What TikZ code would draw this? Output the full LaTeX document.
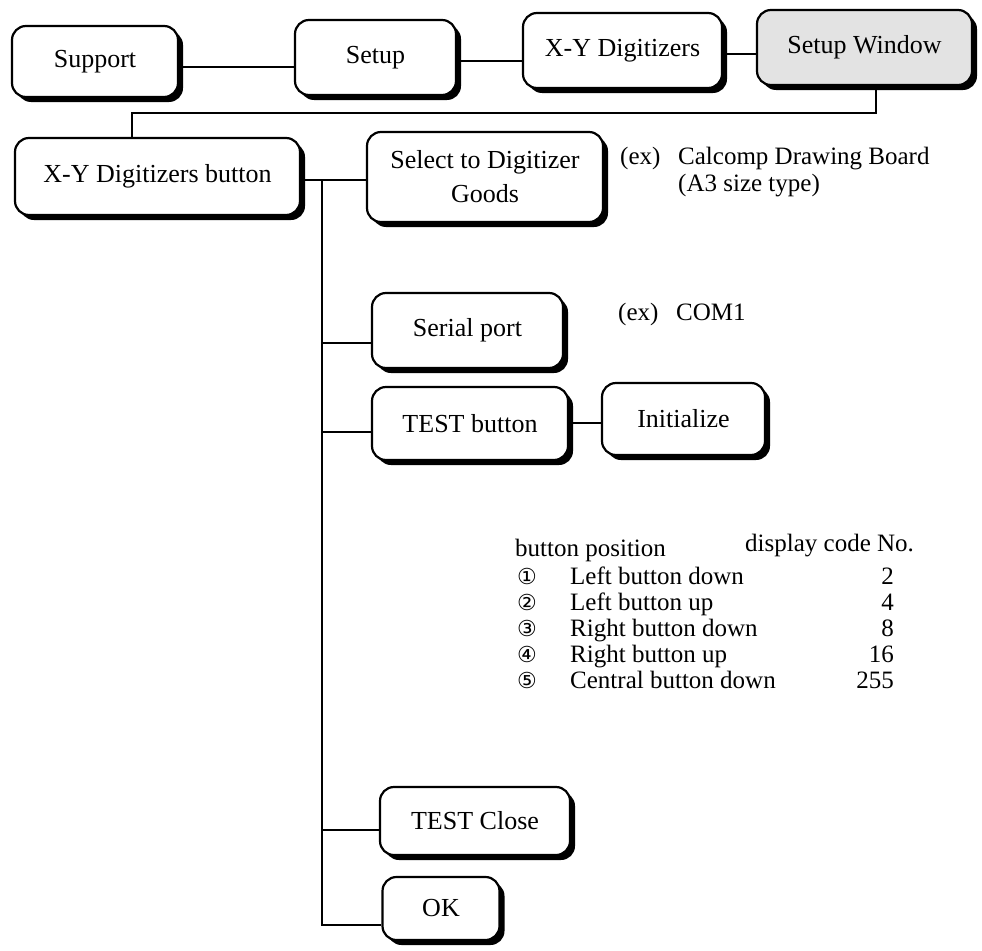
\documentclass[tikz,border=0pt]{standalone}
\usepackage{fontspec}
\setmainfont{Liberation Serif}
\newfontfamily\circfont{DejaVu Sans}
\usetikzlibrary{shadows}

\begin{document}
\begin{tikzpicture}[x=1pt,y=-1pt,
  menubox/.style={draw, line width=2.2pt, rounded corners=14pt, fill=white,
    inner sep=0pt, align=center, font=\fontsize{26}{34}\selectfont,
    drop shadow={shadow xshift=5pt, shadow yshift=-5pt, fill=black, opacity=1}},
  link/.style={line width=2pt},
  note/.style={anchor=base west, inner sep=0pt, font=\fontsize{25}{30}\selectfont},
  num/.style={anchor=base east, inner sep=0pt, font=\fontsize{25}{30}\selectfont},
  circ/.style={inner sep=0pt, font=\circfont\fontsize{22}{24}\selectfont}]

\useasboundingbox (0,0) rectangle (982,950);
\fill[white] (0,0) rectangle (982,950);

% menu path along the top
\node[menubox, minimum width=166pt, minimum height=71pt] (sup) at (95,61.5) {Support};
\node[menubox, minimum width=161pt, minimum height=75pt] (set) at (375.5,57.5) {Setup};
\node[menubox, minimum width=199pt, minimum height=75pt] (xyd) at (622.5,50.5) {X-Y Digitizers};
\node[menubox, fill=gray!22, minimum width=215pt, minimum height=75pt] (sw) at (864.5,47.5) {Setup Window};

% dialog items
\node[menubox, minimum width=285pt, minimum height=77pt] (xyb) at (157.5,176.5) {X-Y Digitizers button};
\node[menubox, minimum width=236pt, minimum height=90pt] (sel) at (485,177) {Select to Digitizer\\Goods};
\node[menubox, minimum width=191pt, minimum height=75pt] (ser) at (467.5,330.5) {Serial port};
\node[menubox, minimum width=196pt, minimum height=73pt] (tst) at (470,423.5) {TEST button};
\node[menubox, minimum width=163pt, minimum height=72pt] (ini) at (683.5,419) {Initialize};
\node[menubox, minimum width=190pt, minimum height=68pt] (tcl) at (475,821) {TEST Close};
\node[menubox, minimum width=117pt, minimum height=63pt] (ok) at (441,908.5) {OK};

% connectors along the top
\draw[link] ([yshift=-6pt]sup.east) -- ([yshift=-6pt]sup.east -| set.west);
\draw[link] ([yshift=-4pt]set.east) -- ([yshift=-4pt]set.east -| xyd.west);
\draw[link] ([yshift=-4pt]xyd.east) -- ([yshift=-4pt]xyd.east -| sw.west);

% from the setup window down to the dialog
\coordinate (drop) at (876,113);
\coordinate (bend) at (132,113);
\draw[link] (sw.south -| drop) -- (drop) -- (bend) -- (bend |- xyb.north);

% dialog branches
\coordinate (tj) at (322,180);
\coordinate (tb) at (322,925);
\draw[link] ([yshift=-3.5pt]xyb.east) -- ([yshift=-3.5pt]xyb.east -| sel.west);
\draw[link] (tj) -- (tb) -- (tb -| ok.west);
\draw[link] ([yshift=-12.5pt]ser.west) -- ([yshift=-12.5pt]ser.west -| tj);
\draw[link] ([yshift=-8.5pt]tst.west) -- ([yshift=-8.5pt]tst.west -| tj);
\draw[link] ([yshift=-9pt]tcl.west) -- ([yshift=-9pt]tcl.west -| tj);
\draw[link] ([yshift=1pt]tst.east) -- ([yshift=1pt]tst.east -| ini.west);

% examples
\node[note] (ex1) at (620,164) {(ex)};
\node[note] (cal) at (678,164) {Calcomp Drawing Board};
\node[note] (a3) at (678,191) {(A3 size type)};
\node[note] (ex2) at (618,320) {(ex)};
\node[note] (com) at (676,320) {COM1};

% button code table
\node[note] (hpos) at (515,556) {button position};
\node[note] (hcode) at (745,551) {display code No.};
\foreach \i/\c/\t/\n/\y in {1/①/Left button down/2/584,
                             2/②/Left button up/4/610,
                             3/③/Right button down/8/636,
                             4/④/Right button up/16/662,
                             5/⑤/Central button down/255/688}{
  \node[circ] (c\i) at (527,\y-8) {\c};
  \node[note] (t\i) at (570,\y) {\t};
  \node[num] (n\i) at (894,\y) {\n};
}
\end{tikzpicture}
\end{document}
